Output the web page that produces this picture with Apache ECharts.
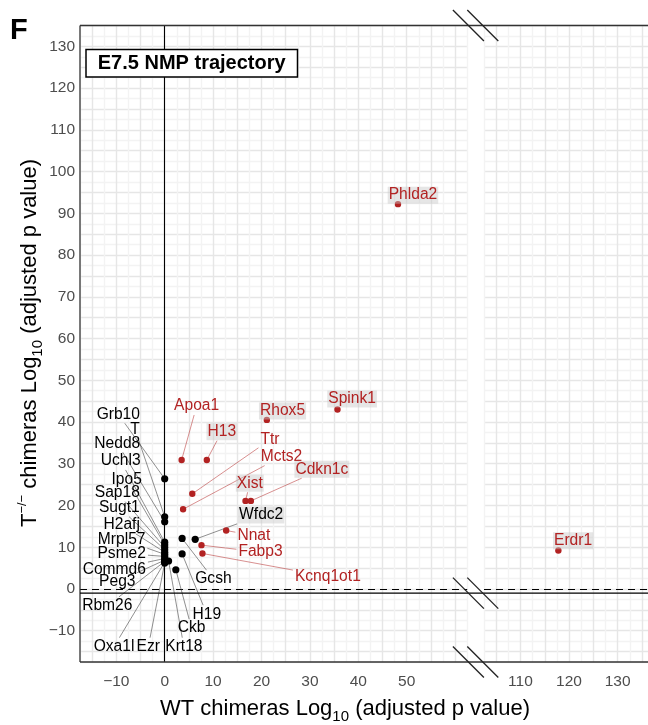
<!DOCTYPE html>
<html><head><meta charset="utf-8">
<script src="https://cdn.jsdelivr.net/npm/echarts@6/dist/echarts.min.js"></script>
<style>html,body{margin:0;padding:0;background:#fff}#c{width:648px;height:725px}</style>
</head><body><div id="c"></div>
<script>
// ---------------- data ----------------
const genes = ['Phlda2','Erdr1','Spink1','Rhox5','Apoa1','H13','Ttr','Mcts2','Xist','Cdkn1c','Nnat','Fabp3','Kcnq1ot1',
  'Wfdc2','Gcsh','H19','Ckb','Krt18','Grb10','T','Nedd8','Uchl3','Ipo5','Sap18','Sugt1','H2afj','Mrpl57','Psme2','Commd6','Peg3','Rbm26','Oxa1l','Ezr'];
const wtLog10 = [48.2,117.8,35.7,21.1,3.5,8.7,5.7,3.8,16.7,17.8,12.7,7.6,7.8,
  6.3,3.6,3.6,2.3,0.8,0,0,0,0,0,0,0,0,0,0,0,0,0,0,0];
const tLog10 = [92.2,9.2,43.0,40.5,30.9,30.9,22.8,19.1,21.1,21.1,14.0,10.5,8.5,
  11.9,12.1,8.4,4.6,6.7,26.4,17.3,16.1,11.2,10.6,10.0,9.4,8.8,8.3,7.8,7.3,6.9,6.6,6.4,6.2];
const highlighted = [true,true,true,true,true,true,true,true,true,true,true,true,true,
  false,false,false,false,false,false,false,false,false,false,false,false,false,false,false,false,false,false,false,false];
const xTicksLeft = [-10,0,10,20,30,40,50];
const xTicksRight = [110,120,130];
const yTicks = [-10,0,10,20,30,40,50,60,70,80,90,100,110,120,130];
const panelTitle = 'E7.5 NMP trajectory';

// ---------------- label layout (px offsets from point) & styles ----------------
const labelDx = [15,14.7,14.6,15.7,15,15,77.7,98.4,4.3,71,27.7,59,125.4,
  66,31.3,24.7,15.7,15.3,-46.4,-29.7,-47.4,-44,-38,-47.4,-45.4,-43,-43,-43,-50.4,-47.4,-57.4,-50.7,-16.4];
const labelDy = [-9,-9.7,-10.4,-9,-54,-28.3,-54,-52.6,-17.7,-31.7,5,7,23,
  -24.3,40.7,60.3,58.3,85.7,-64.5,-87.5,-78.5,-81.3,-65.5,-54.6,-42.1,-27.3,-15.1,-3.1,10.8,21.5,44.5,84.4,83.6];
const labelShaded = [true,true,true,true,false,true,false,false,true,true,false,false,false,
  true,false,false,false,false,false,false,false,false,false,false,false,false,false,false,false,false,false,false,false];

const FONT = '"Liberation Sans", Arial, Helvetica, sans-serif';
const LABEL_FONT = '15.6px ' + FONT;
const RED = '#b22222';
const G = {top: 25.5, height: 636.5, l0: 80, w0: 387.2, l1: 484, w1: 170.1};

const mctx = document.createElement('canvas').getContext('2d');
function textW(s) { mctx.font = LABEL_FONT; return mctx.measureText(s).width; }

function renderItem(params, api) {
  const idx = api.value(2);
  const p = api.coord([api.value(0), api.value(1)]);
  const red = highlighted[idx];
  const cx = p[0] + labelDx[idx], cy = p[1] + labelDy[idx];
  const hw = textW(genes[idx]) / 2 + 2, hh = 9;
  const dx = p[0] - cx, dy = p[1] - cy;
  const s = Math.min(dx ? hw / Math.abs(dx) : Infinity, dy ? hh / Math.abs(dy) : Infinity);
  const children = [];
  if (s < 1) {
    const qx = cx + dx * s, qy = cy + dy * s;
    if (Math.hypot(p[0] - qx, p[1] - qy) > 7) {
      children.push({type: 'line', z2: 1, shape: {x1: p[0], y1: p[1], x2: qx, y2: qy},
        style: {stroke: red ? 'rgba(178,34,34,0.5)' : 'rgba(70,70,70,0.6)', lineWidth: 1}});
    }
  }
  children.push({type: 'circle', z2: 5, shape: {cx: p[0], cy: p[1], r: red ? 3.2 : 3.6},
    style: {fill: red ? RED : '#000'}});
  children.push({type: 'text', z2: 10, x: cx, y: cy,
    style: {text: genes[idx], fill: red ? RED : '#000', font: LABEL_FONT, align: 'center', verticalAlign: 'middle',
      backgroundColor: labelShaded[idx] ? 'rgba(200,200,200,0.45)' : null, padding: [1, 1, 0, 1]}});
  return {type: 'group', children};
}

const leftData = [], rightData = [];
genes.forEach((g, i) => { (wtLog10[i] < 80 ? leftData : rightData).push([wtLog10[i], tLog10[i], i]); });

function fmt(ticks) {
  return v => ticks.some(t => Math.abs(t - v) < 1e-6) ? String(v).replace('-', '\u2212') : '';
}
const gridColors = ['#f3f3f3', '#e6e6e6'];
function xAxis(gi, min, max, ticks) {
  return {type: 'value', gridIndex: gi, min, max, interval: 2.5,
    axisLine: {show: false}, axisTick: {show: false},
    axisLabel: {formatter: fmt(ticks), color: '#4d4d4d', fontSize: 15.5, fontFamily: FONT, margin: 12},
    splitLine: {show: true, lineStyle: {color: gridColors, width: 1.4}}};
}
function yAxis(gi, showLabels) {
  return {type: 'value', gridIndex: gi, min: -17.5, max: 135, interval: 2.5,
    axisLine: {show: false}, axisTick: {show: false},
    axisLabel: {show: showLabels, formatter: fmt(yTicks), color: '#4d4d4d', fontSize: 15.5, fontFamily: FONT, margin: 5},
    splitLine: {show: true, lineStyle: {color: gridColors, width: 1.4}}};
}

const chart = echarts.init(document.getElementById('c'), null, {renderer: 'canvas'});
const option = {
  animation: false,
  backgroundColor: '#fff',
  grid: [
    {left: G.l0, top: G.top, width: G.w0, height: G.height, outerBoundsMode: 'none', containLabel: false},
    {left: G.l1, top: G.top, width: G.w1, height: G.height, outerBoundsMode: 'none', containLabel: false}
  ],
  xAxis: [xAxis(0, -17.5, 62.5, xTicksLeft), xAxis(1, 102.5, 137.5, xTicksRight)],
  yAxis: [yAxis(0, true), yAxis(1, false)],
  series: [
    {type: 'scatter', xAxisIndex: 0, yAxisIndex: 0, data: [], silent: true,
      markLine: {silent: true, symbol: ['none', 'none'], label: {show: false}, animation: false,
        data: [
          {yAxis: 0, lineStyle: {type: [7, 5], color: '#000', width: 1.2}},
          {xAxis: 0, lineStyle: {type: 'solid', color: '#000', width: 1.1}}
        ]}},
    {type: 'scatter', xAxisIndex: 1, yAxisIndex: 1, data: [], silent: true,
      markLine: {silent: true, symbol: ['none', 'none'], label: {show: false}, animation: false,
        data: [{yAxis: 0, lineStyle: {type: [7, 5], color: '#000', width: 1.2}}]}},
    {type: 'custom', xAxisIndex: 0, yAxisIndex: 0, data: leftData, renderItem, z: 5, silent: true},
    {type: 'custom', xAxisIndex: 1, yAxisIndex: 1, data: rightData, renderItem, z: 5, silent: true}
  ]
};
chart.setOption(option);

// ---------------- decorations ----------------
const yNeg1 = chart.convertToPixel({xAxisIndex: 0, yAxisIndex: 0}, [0, -1])[1];
const bottom = G.top + G.height;
const xEnd = 648;
const gapC = (G.l0 + G.w0 + G.l1) / 2;
const frameStyle = {stroke: '#333', lineWidth: 1.3};
const gfx = [
  {type: 'line', z: 50, shape: {x1: G.l0, y1: G.top, x2: xEnd, y2: G.top}, style: frameStyle},
  {type: 'line', z: 50, shape: {x1: G.l0, y1: bottom, x2: xEnd, y2: bottom}, style: frameStyle},
  {type: 'line', z: 50, shape: {x1: G.l0, y1: G.top, x2: G.l0, y2: bottom}, style: frameStyle},
  {type: 'line', z: 50, shape: {x1: G.l0, y1: yNeg1, x2: xEnd, y2: yNeg1}, style: {stroke: '#000', lineWidth: 1.3}}
];
[G.top, yNeg1, bottom].forEach(cy => {
  [-7.2, 7.2].forEach(o => {
    gfx.push({type: 'line', z: 60, shape: {x1: gapC + o - 15.5, y1: cy - 15.5, x2: gapC + o + 15.5, y2: cy + 15.5},
      style: {stroke: '#222', lineWidth: 1.3}});
  });
});
gfx.push({type: 'text', z: 100, x: 10, y: 31,
  style: {text: 'F', font: 'bold 29px ' + FONT, fill: '#000', align: 'left', verticalAlign: 'middle'}});
gfx.push({type: 'rect', z: 100, shape: {x: 86, y: 49.5, width: 211.5, height: 27.5},
  style: {fill: '#fff', stroke: '#000', lineWidth: 1.5}});
gfx.push({type: 'text', z: 101, x: 191.7, y: 63.5,
  style: {text: panelTitle, font: 'bold 20px ' + FONT, fill: '#000', align: 'center', verticalAlign: 'middle'}});
const richT = {
  a: {fontSize: 22, lineHeight: 22, fontFamily: FONT, fill: '#000', verticalAlign: 'middle'},
  s: {fontSize: 15, lineHeight: 15, fontFamily: FONT, fill: '#000', padding: [16, 0, 0, 0], verticalAlign: 'middle'},
  p: {fontSize: 13, lineHeight: 13, fontFamily: FONT, fill: '#000', padding: [0, 0, 16, 0], verticalAlign: 'middle'}
};
gfx.push({type: 'text', z: 100, x: 345, y: 709,
  style: {text: '{a|WT chimeras Log}{s|10}{a| (adjusted p value)}', rich: richT, align: 'center', verticalAlign: 'middle'}});
gfx.push({type: 'text', z: 100, x: 30, y: 343, rotation: Math.PI / 2,
  style: {text: '{a|T}{p|\u2212/\u2212}{a| chimeras Log}{s|10}{a| (adjusted p value)}', rich: richT, align: 'center', verticalAlign: 'middle'}});
chart.setOption({graphic: gfx});
</script>
</body></html>
